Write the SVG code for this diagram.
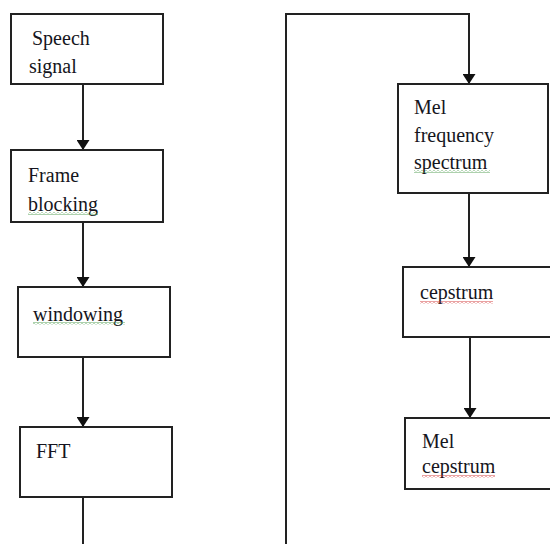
<svg xmlns="http://www.w3.org/2000/svg" width="550" height="544" viewBox="0 0 550 544">
<style>
.box{fill:#fff;stroke:#222;stroke-width:2}
.con{fill:none;stroke:#222;stroke-width:2}
</style>
<defs>
<marker id="arr" markerWidth="10" markerHeight="13" refX="10" refY="6.5" orient="auto" markerUnits="userSpaceOnUse">
<path d="M0,0 L10,6.5 L0,13 z" fill="#111"/>
</marker>
<pattern id="sqG" width="4" height="3" patternUnits="userSpaceOnUse">
<path d="M0,0.5 L2,2.5 L4,0.5" stroke="#4a9a4a" fill="none" stroke-width="0.9"/>
</pattern>
<pattern id="sqR" width="4" height="3" patternUnits="userSpaceOnUse">
<path d="M0,0.5 L2,2.5 L4,0.5" stroke="#d03030" fill="none" stroke-width="0.9"/>
</pattern>
</defs>
<rect width="550" height="544" fill="#fff"/>
<g id="connectors">
<line class="con" x1="83" y1="84" x2="83" y2="150" marker-end="url(#arr)"/>
<line class="con" x1="83" y1="222" x2="83" y2="287" marker-end="url(#arr)"/>
<line class="con" x1="83" y1="357" x2="83" y2="427" marker-end="url(#arr)"/>
<path class="con" d="M83,497 V552 H286 V14 H469 V84" marker-end="url(#arr)"/>
<line class="con" x1="469" y1="193" x2="469" y2="267" marker-end="url(#arr)"/>
<line class="con" x1="470" y1="337" x2="470" y2="418" marker-end="url(#arr)"/>
</g>
<g font-family="Liberation Serif, Times New Roman, serif" font-size="20" fill="#151520">
<g id="speech-signal">
<rect class="box" x="11" y="14" width="152" height="70"/>
<text x="32" y="45">Speech</text>
<text x="29" y="73">signal</text>
</g>
<g id="frame-blocking">
<rect class="box" x="11" y="150" width="152" height="72"/>
<text x="28" y="182">Frame</text>
<text x="28" y="211">blocking</text>
<rect x="28" y="212" width="70" height="3" fill="url(#sqG)"/>
</g>
<g id="windowing">
<rect class="box" x="18" y="287" width="152" height="70"/>
<text x="33" y="321">windowing</text>
<rect x="33" y="322" width="92" height="3" fill="url(#sqG)"/>
</g>
<g id="fft">
<rect class="box" x="20" y="427" width="152" height="70"/>
<text x="36" y="458">FFT</text>
</g>
<g id="mel-frequency-spectrum">
<rect class="box" x="398" y="84" width="150" height="109"/>
<text x="414" y="114">Mel</text>
<text x="414" y="142">frequency</text>
<text x="414" y="169">spectrum</text>
<rect x="414" y="170" width="76" height="3" fill="url(#sqG)"/>
</g>
<g id="cepstrum">
<rect class="box" x="403" y="267" width="152" height="70"/>
<text x="420" y="299">cepstrum</text>
<rect x="420" y="301" width="73" height="3" fill="url(#sqR)"/>
</g>
<g id="mel-cepstrum">
<rect class="box" x="405" y="418" width="152" height="71"/>
<text x="422" y="448">Mel</text>
<text x="422" y="473">cepstrum</text>
<rect x="422" y="475" width="73" height="3" fill="url(#sqR)"/>
</g>
</g>
</svg>
